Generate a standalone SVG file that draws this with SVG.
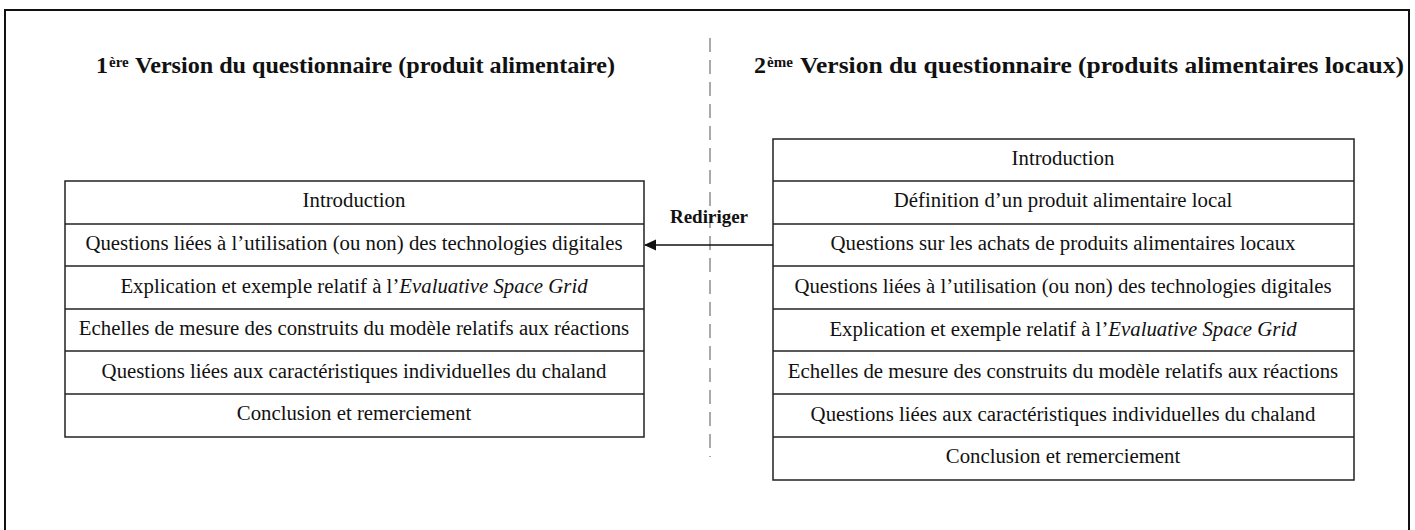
<svg xmlns="http://www.w3.org/2000/svg" width="1415" height="530" viewBox="0 0 1415 530">
<style>
.t{font-family:"Liberation Serif","Times New Roman",serif;font-size:20.8px;fill:#111;text-anchor:middle}
.h{font-family:"Liberation Serif","Times New Roman",serif;font-size:24px;font-weight:bold;fill:#111}
.s{font-family:"Liberation Serif","Times New Roman",serif;font-size:15px;font-weight:bold;fill:#111}
.c{fill:#fff;stroke:#222;stroke-width:1.5}
.r{stroke:#222;stroke-width:1.5}
</style>
<defs>
<marker id="ah" markerWidth="12" markerHeight="12" refX="11" refY="6" orient="auto" markerUnits="userSpaceOnUse">
<path d="M0,0.5 L12,6 L0,11.5 Z" fill="#111"/>
</marker>
</defs>
<rect width="1415" height="530" fill="#fff"/>
<rect x="5" y="10" width="1404" height="540" fill="none" stroke="#111" stroke-width="2"/>
<line x1="710" y1="38" x2="710" y2="457" stroke="#555" stroke-width="1" stroke-dasharray="14,8"/>
<g id="title1">
<text class="h" x="96" y="73">1</text>
<text class="s" x="109" y="67">ère</text>
<text class="h" x="135" y="73" textLength="480" lengthAdjust="spacingAndGlyphs">Version du questionnaire (produit alimentaire)</text>
</g>
<g id="title2">
<text class="h" x="754" y="73">2</text>
<text class="s" x="767" y="67">ème</text>
<text class="h" x="800" y="73" textLength="604" lengthAdjust="spacingAndGlyphs">Version du questionnaire (produits alimentaires locaux)</text>
</g>
<g id="left">
<rect class="c" x="65" y="181" width="579" height="256"/>
<line class="r" x1="65" y1="224" x2="644" y2="224"/>
<line class="r" x1="65" y1="266" x2="644" y2="266"/>
<line class="r" x1="65" y1="309" x2="644" y2="309"/>
<line class="r" x1="65" y1="351" x2="644" y2="351"/>
<line class="r" x1="65" y1="394" x2="644" y2="394"/>
<text class="t" x="354" y="207">Introduction</text>
<text class="t" x="354" y="250">Questions liées à l’utilisation (ou non) des technologies digitales</text>
<text class="t" x="354" y="293">Explication et exemple relatif à l’<tspan font-style="italic">Evaluative Space Grid</tspan></text>
<text class="t" x="354" y="335">Echelles de mesure des construits du modèle relatifs aux réactions</text>
<text class="t" x="354" y="378">Questions liées aux caractéristiques individuelles du chaland</text>
<text class="t" x="354" y="420">Conclusion et remerciement</text>
</g>
<g id="right">
<rect class="c" x="773" y="139" width="581" height="341"/>
<line class="r" x1="773" y1="181" x2="1354" y2="181"/>
<line class="r" x1="773" y1="224" x2="1354" y2="224"/>
<line class="r" x1="773" y1="266" x2="1354" y2="266"/>
<line class="r" x1="773" y1="309" x2="1354" y2="309"/>
<line class="r" x1="773" y1="351" x2="1354" y2="351"/>
<line class="r" x1="773" y1="394" x2="1354" y2="394"/>
<line class="r" x1="773" y1="437" x2="1354" y2="437"/>
<text class="t" x="1063" y="165">Introduction</text>
<text class="t" x="1063" y="207">Définition d’un produit alimentaire local</text>
<text class="t" x="1063" y="250">Questions sur les achats de produits alimentaires locaux</text>
<text class="t" x="1063" y="293">Questions liées à l’utilisation (ou non) des technologies digitales</text>
<text class="t" x="1063" y="336">Explication et exemple relatif à l’<tspan font-style="italic">Evaluative Space Grid</tspan></text>
<text class="t" x="1063" y="378">Echelles de mesure des construits du modèle relatifs aux réactions</text>
<text class="t" x="1063" y="421">Questions liées aux caractéristiques individuelles du chaland</text>
<text class="t" x="1063" y="463">Conclusion et remerciement</text>
</g>
<g id="connectors">
<line x1="773" y1="245" x2="645" y2="245" stroke="#111" stroke-width="1.5" marker-end="url(#ah)"/>
<text x="709" y="223" font-family="Liberation Serif, serif" font-size="19" font-weight="bold" text-anchor="middle" fill="#111">Rediriger</text>
</g>
</svg>
